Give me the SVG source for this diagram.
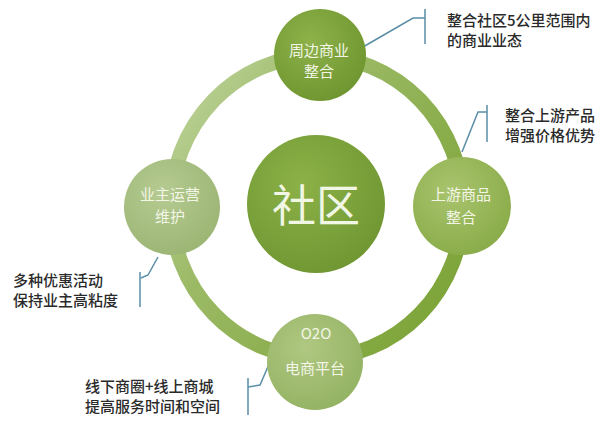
<svg xmlns="http://www.w3.org/2000/svg" width="613" height="422" viewBox="0 0 613 422">
<style>
.nt{font-family:"Noto Sans CJK SC","Noto Sans",sans-serif;font-size:15px;fill:#f3f6e6;text-anchor:middle}
.ct{font-family:"Noto Sans CJK SC","Noto Sans",sans-serif;font-size:15px;font-weight:500;fill:#2a2a2a}
.cl{fill:none;stroke:#5a8ea6;stroke-width:1.5}
</style>
<defs>
<linearGradient id="ring" x1="0" y1="0" x2="1" y2="0.7">
<stop offset="0" stop-color="#c2d6a2"/>
<stop offset="0.4" stop-color="#9cba66"/>
<stop offset="1" stop-color="#7ea53a"/>
</linearGradient>
<radialGradient id="gTop" cx="0.4" cy="0.35" r="0.7">
<stop offset="0" stop-color="#8db24a"/><stop offset="1" stop-color="#6f9530"/>
</radialGradient>
<radialGradient id="gCenter" cx="0.4" cy="0.35" r="0.7">
<stop offset="0" stop-color="#8cb148"/><stop offset="1" stop-color="#6f9632"/>
</radialGradient>
<radialGradient id="gRight" cx="0.4" cy="0.35" r="0.7">
<stop offset="0" stop-color="#a9c46e"/><stop offset="1" stop-color="#89ab48"/>
</radialGradient>
<radialGradient id="gLeft" cx="0.4" cy="0.35" r="0.7">
<stop offset="0" stop-color="#b6cb92"/><stop offset="1" stop-color="#9bb574"/>
</radialGradient>
<radialGradient id="gBottom" cx="0.4" cy="0.35" r="0.7">
<stop offset="0" stop-color="#b0c882"/><stop offset="1" stop-color="#93b262"/>
</radialGradient>
</defs>
<rect width="613" height="422" fill="#ffffff"/>
<g id="connectors">
<ellipse cx="317" cy="207" rx="146" ry="151" fill="none" stroke="url(#ring)" stroke-width="15"/>
<polyline class="cl" points="363,47 413,18 425,18"/>
<line class="cl" x1="425" y1="9" x2="425" y2="44"/>
<polyline class="cl" points="462,152 478,112 487,112"/>
<line class="cl" x1="487" y1="105" x2="487" y2="142"/>
<polyline class="cl" points="158,257 148,275 141,278"/>
<line class="cl" x1="140" y1="272" x2="140" y2="307"/>
<polyline class="cl" points="270,362 260,385 248,387"/>
<line class="cl" x1="248" y1="378" x2="248" y2="415"/>
</g>
<g id="center">
<circle cx="316" cy="204" r="69" fill="url(#gCenter)"/>
<text x="316" y="222" font-family="Noto Sans CJK SC, sans-serif" font-size="44" fill="#f2f6e4" text-anchor="middle">社区</text>
</g>
<g id="top">
<circle cx="320" cy="55" r="46" fill="url(#gTop)"/>
<text class="nt" x="319" y="56">周边商业</text>
<text class="nt" x="319" y="77">整合</text>
</g>
<g id="right">
<circle cx="462" cy="206" r="49" fill="url(#gRight)"/>
<text class="nt" x="461" y="200">上游商品</text>
<text class="nt" x="461" y="223">整合</text>
</g>
<g id="left">
<circle cx="172" cy="207" r="48" fill="url(#gLeft)"/>
<text class="nt" x="170" y="200">业主运营</text>
<text class="nt" x="170" y="222">维护</text>
</g>
<g id="bottom">
<circle cx="315" cy="362" r="48" fill="url(#gBottom)"/>
<text class="nt" x="316" y="339">O2O</text>
<text class="nt" x="315" y="374">电商平台</text>
</g>
<g id="callouts">
<text class="ct" x="447" y="26">整合社区5公里范围内</text>
<text class="ct" x="447" y="46">的商业业态</text>
<text class="ct" x="505" y="121">整合上游产品</text>
<text class="ct" x="505" y="141">增强价格优势</text>
<text class="ct" x="13" y="286">多种优惠活动</text>
<text class="ct" x="13" y="306">保持业主高粘度</text>
<text class="ct" x="85" y="392">线下商圈+线上商城</text>
<text class="ct" x="85" y="412">提高服务时间和空间</text>
</g>
</svg>
